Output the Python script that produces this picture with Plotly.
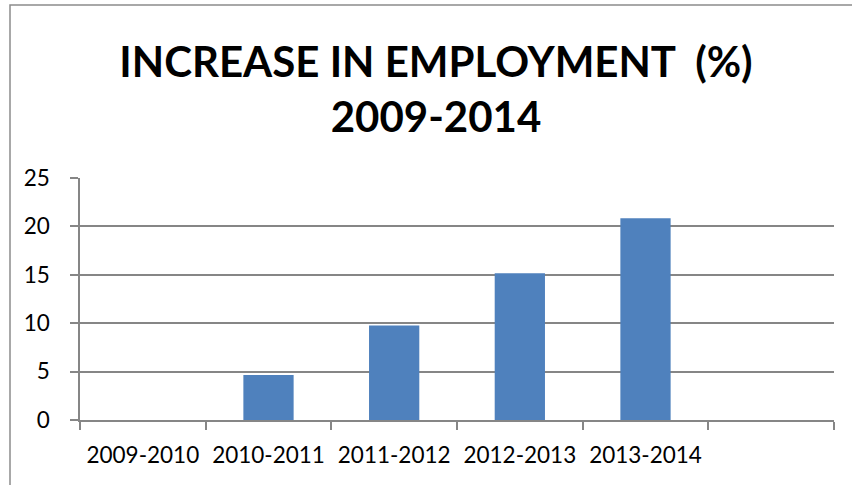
import plotly.graph_objects as go

categories = ["2009-2010", "2010-2011", "2011-2012", "2012-2013", "2013-2014", " "]
values = [0, 4.65, 9.75, 15.15, 20.85, None]
y_ticks = [0, 5, 10, 15, 20, 25]

W, H = 852, 485
L, R, T, B = 80, 18, 178, 65
pw, ph = W - L - R, H - T - B

fig = go.Figure(go.Bar(
    x=categories, y=values,
    marker=dict(color="#4f81bd", line=dict(width=0)),
    width=0.4,
))

grid_col = "#868686"
fig.update_layout(
    width=W, height=H,
    margin=dict(l=L, r=R, t=T, b=B),
    paper_bgcolor="white", plot_bgcolor="white",
    showlegend=False,
    font=dict(family="Lato", size=22.5, color="black"),
    title=dict(
        text="INCREASE IN EMPLOYMENT \u00a0(%)<br>2009-2014",
        font=dict(family="Lato", size=42, color="black", weight="bold"),
        x=436 / W, xanchor="center", xref="container",
        y=1 - 77 / H, yanchor="top", yref="container",
    ),
    xaxis=dict(
        type="category", categoryorder="array", categoryarray=categories,
        range=[-0.5, 5.5], tickson="boundaries",
        ticks="outside", ticklen=8, tickcolor=grid_col, tickwidth=1.5,
        showline=True, linecolor=grid_col, linewidth=1.5,
        showgrid=False, ticklabelstandoff=14,
    ),
    yaxis=dict(
        range=[0, 25], tickvals=y_ticks,
        ticks="outside", ticklen=8, tickcolor=grid_col, tickwidth=1.5,
        showline=True, linecolor=grid_col, linewidth=1.5,
        showgrid=True, gridcolor=grid_col, gridwidth=1.5,
        zeroline=False, ticklabelstandoff=16,
    ),
)

# outer chart border (extends beyond the visible window on right/bottom)
fig.add_shape(
    type="rect", xref="paper", yref="paper",
    x0=(10 - L) / pw, x1=(W + 20 - L) / pw,
    y0=(H - B - (H + 20)) / ph, y1=(H - B - 5) / ph,
    line=dict(color="#8c8c8c", width=1.5), layer="below",
)

fig.write_html("out.html")
